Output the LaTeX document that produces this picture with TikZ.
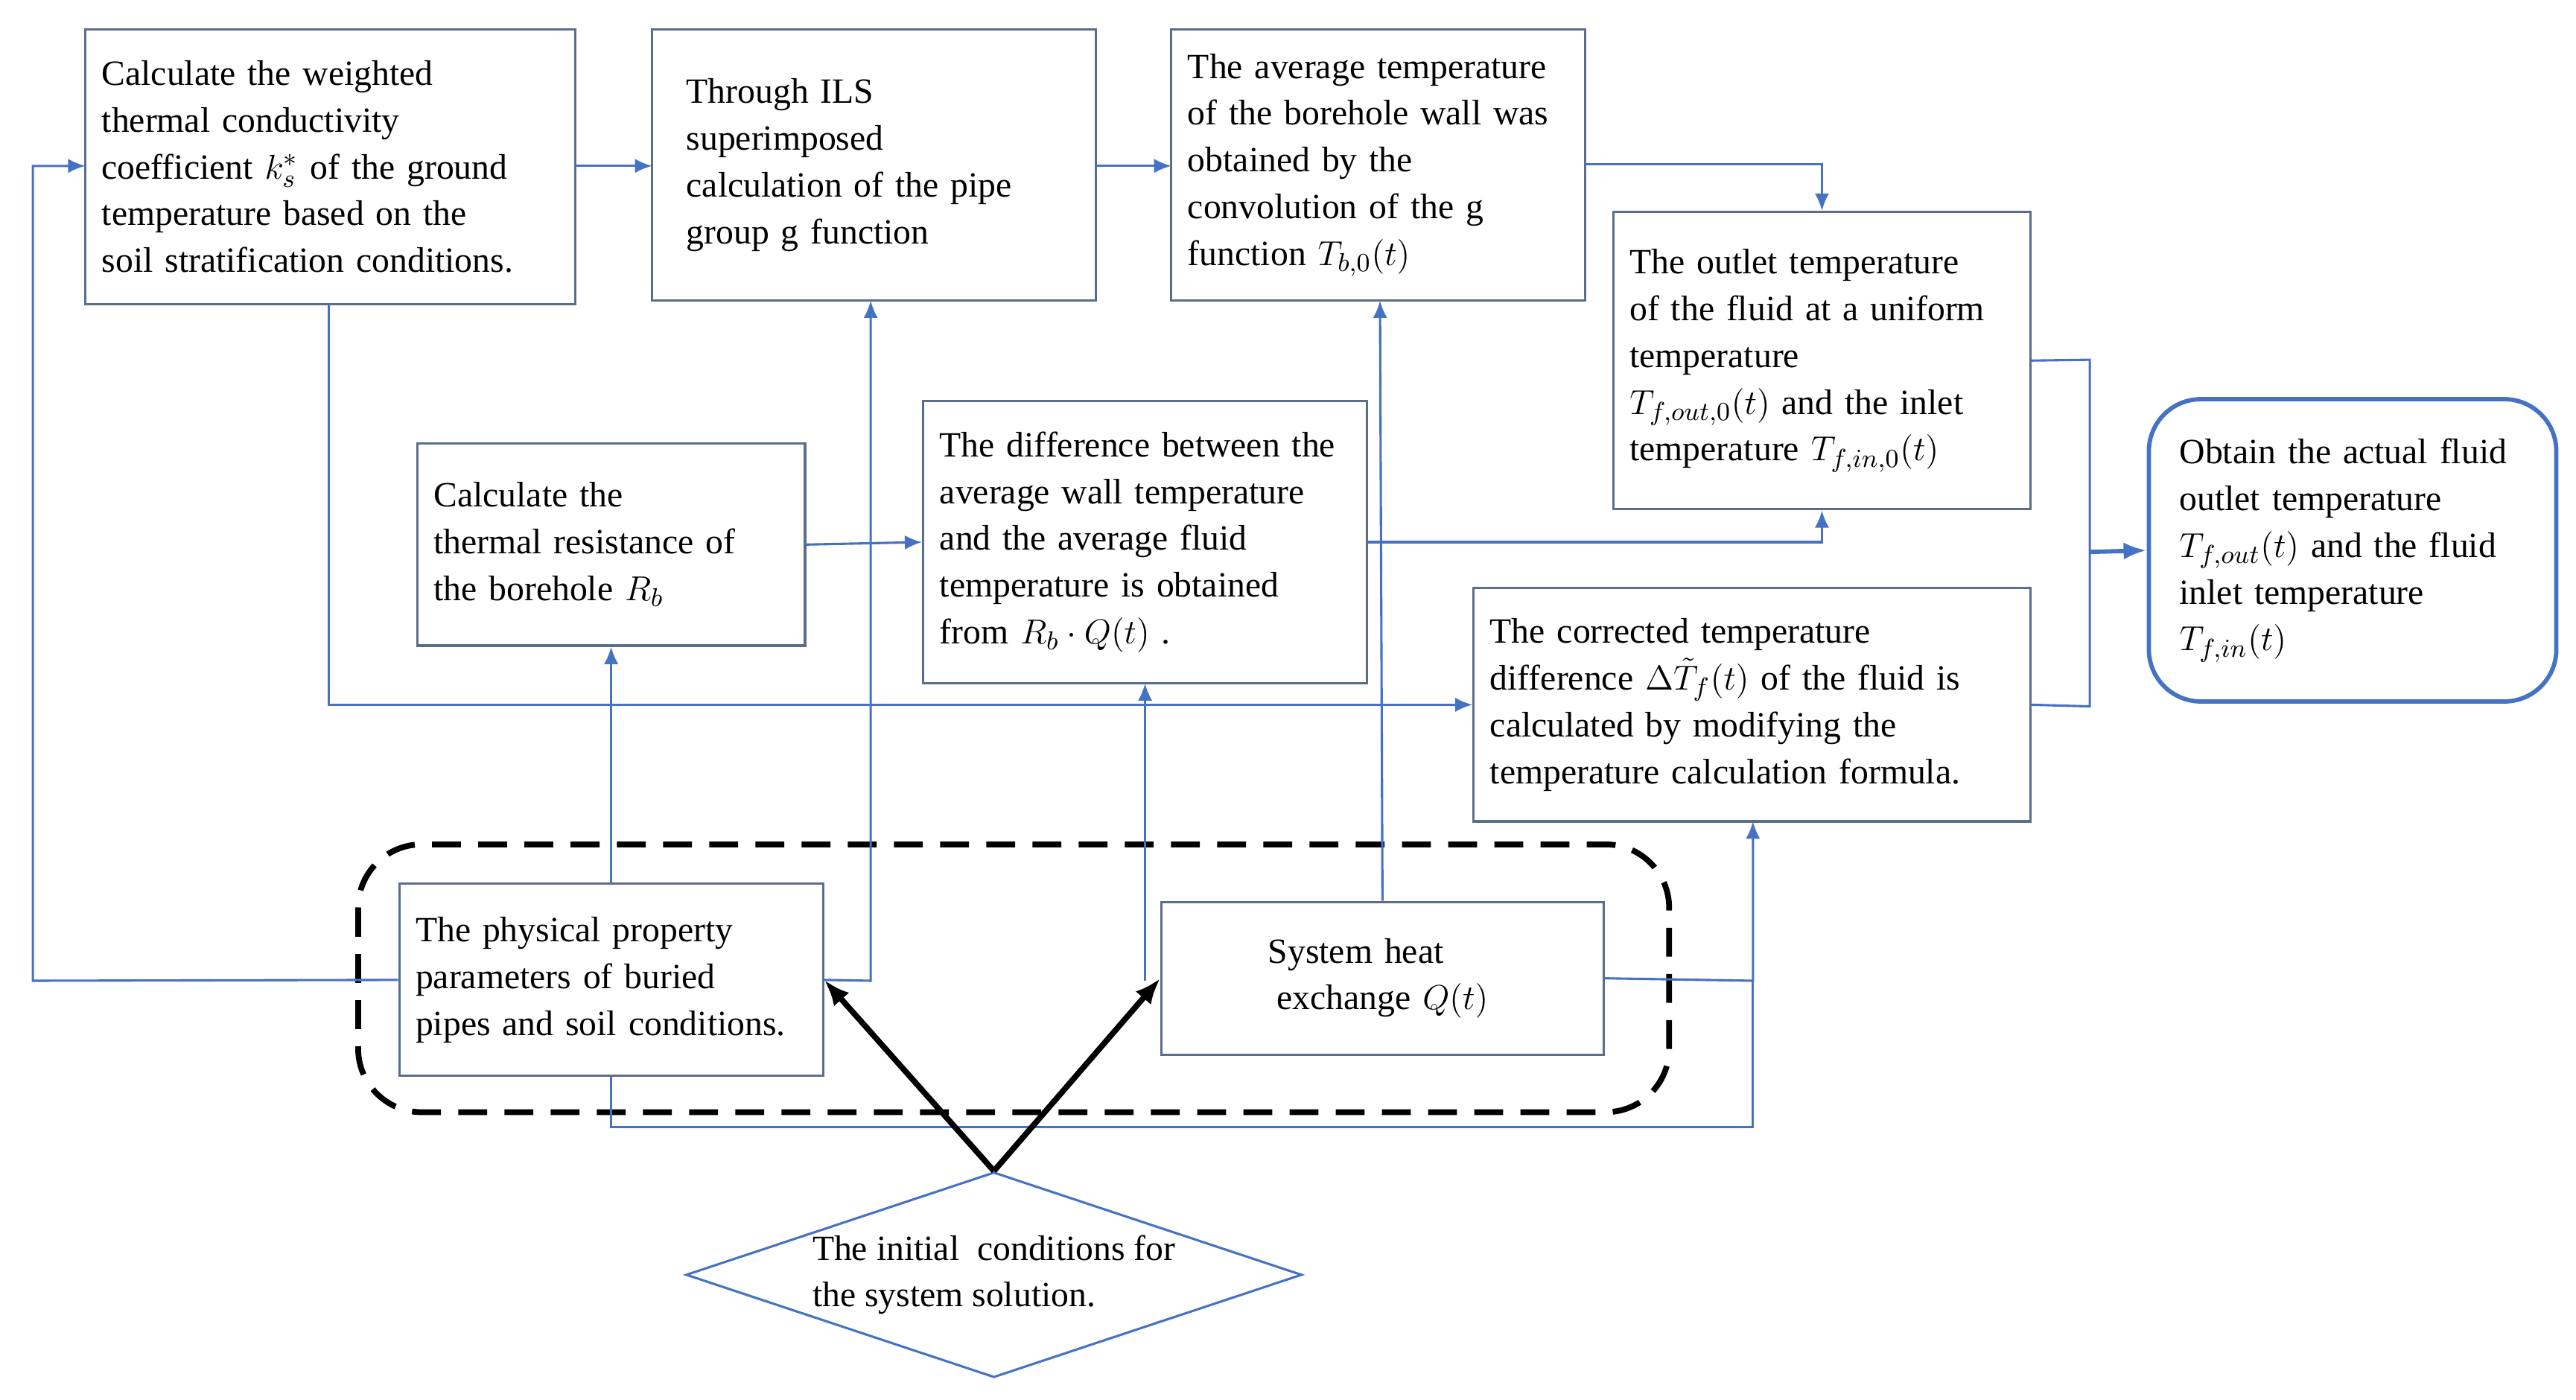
\documentclass[tikz,border=0pt]{standalone}
\usepackage{fontspec}
\setmainfont{Liberation Serif}
\usetikzlibrary{arrows.meta,shapes.geometric}
\begin{document}
\begin{tikzpicture}[x=0.02cm,y=-0.02cm,
  box/.style={draw=boxc,line width=0.8pt,align=left,inner sep=0pt,font=\fontsize{12.3}{16.2}\selectfont},
  conn/.style={draw=linec,line width=0.8pt,-{Latex[length=6pt,width=5pt]}},
  plain/.style={draw=linec,line width=0.8pt}]
\definecolor{boxc}{RGB}{90,110,140}
\definecolor{linec}{RGB}{70,114,196}
\useasboundingbox (0,0) rectangle (1568,852);
\newcommand\mybox[7][]{%
  \pgfmathsetmacro\mw{(#5-#3)*0.02}%
  \pgfmathsetmacro\mh{(#6-#4)*0.02}%
  \pgfmathsetmacro\tw{(#5-#3)*0.02-0.4}%
  \node[box,#1,minimum width=\mw cm,minimum height=\mh cm,text width=\tw cm] (#2) at ({(#3+#5)/2},{(#4+#6)/2}) {#7};}
\mybox{b1}{52}{18}{350}{185}{Calculate the weighted\\thermal conductivity\\coefficient $k_s^*$ of the ground\\temperature based on the\\soil stratification conditions.}
\mybox{b2}{397}{18}{667}{183}{\hspace*{0.5em}Through ILS\\\hspace*{0.5em}superimposed\\\hspace*{0.5em}calculation of the pipe\\\hspace*{0.5em}group g function\\[1em]}
\mybox{b3}{713}{18}{965}{183}{The average temperature\\of the borehole wall was\\obtained by the\\convolution of the g\\function $T_{b,0}(t)$}
\mybox{b4}{982}{129}{1236}{310}{The outlet temperature\\of the fluid at a uniform\\temperature\\$T_{f,out,0}(t)$ and the inlet\\temperature $T_{f,in,0}(t)$}
\mybox[rounded corners=18pt,draw=linec,line width=1.5pt]{b5}{1308}{243}{1556}{427}{\hspace*{0.4em}Obtain the actual fluid\\\hspace*{0.4em}outlet temperature\\\hspace*{0.4em}$T_{f,out}(t)$ and the fluid\\\hspace*{0.4em}inlet temperature\\\hspace*{0.4em}$T_{f,in}(t)$}
\mybox{b6}{254}{270}{490}{393}{Calculate the\\thermal resistance of\\the borehole $R_b$}
\mybox{b7}{562}{244}{832}{416}{The difference between the\\average wall temperature\\and the average fluid\\temperature is obtained\\from $R_b\cdot Q(t)$ .}
\mybox{b8}{897}{358}{1236}{500}{The corrected temperature\\difference $\Delta\tilde{T}_f(t)$ of the fluid is\\calculated by modifying the\\temperature calculation formula.}
\mybox{b9}{243}{538}{501}{655}{The physical property\\parameters of buried\\pipes and soil conditions.}
\mybox[align=center]{b10}{707}{549}{976}{642}{\hspace*{-1.5em}System heat\\exchange $Q(t)$}
\draw[black,line width=2pt,dash pattern=on 10pt off 6pt,rounded corners=22pt] (218,514) rectangle (1016,677);
\node[diamond,draw=linec,line width=0.8pt,aspect=3,minimum width=7.5cm,minimum height=2.5cm,inner sep=0pt,align=left,font=\fontsize{12.3}{16.2}\selectfont] (d) at (605,776) {The initial\ \ conditions for\\the system solution.};
% connectors
\draw[conn] (b9.west) -- (20,597) -- (20,101) -- (52,101);
\draw[conn] (350,101) -- (397,101);
\draw[conn] (667,101) -- (713,101);
\draw[conn] (965,100) -| (b4.north);
\draw[conn] (200,185) |- (b8.west);
\draw[conn] (b6.east) -- (b7.west);
\draw[conn] (b7.east) -| (b4.south);
\draw[conn] (b9.north) -- (b6.south);
\draw[conn] (b9.east) -- (530,597) -- (530,183);
\draw[conn] (697,597) -- (697,416);
\draw[conn] (b10.north) -- (840,183);
\draw[conn] (b10.east) -- (1067,597) -- (1067,500);
\draw[plain] (b9.south) -- (372,686) -- (1067,686) -- (1067,597);
\draw[plain] (b4.east) -- (1272,219) -- (1272,430) -- (b8.east);
\draw[draw=linec,line width=1.5pt,-{Latex[length=8pt,width=6pt]}] (1272,336) -- (b5.west);
\draw[black,line width=2pt,-{Latex[length=9pt,width=7pt]}] (d.north) -- (b9.east);
\draw[black,line width=2pt,-{Latex[length=9pt,width=7pt]}] (d.north) -- (b10.west);
\end{tikzpicture}
\end{document}
